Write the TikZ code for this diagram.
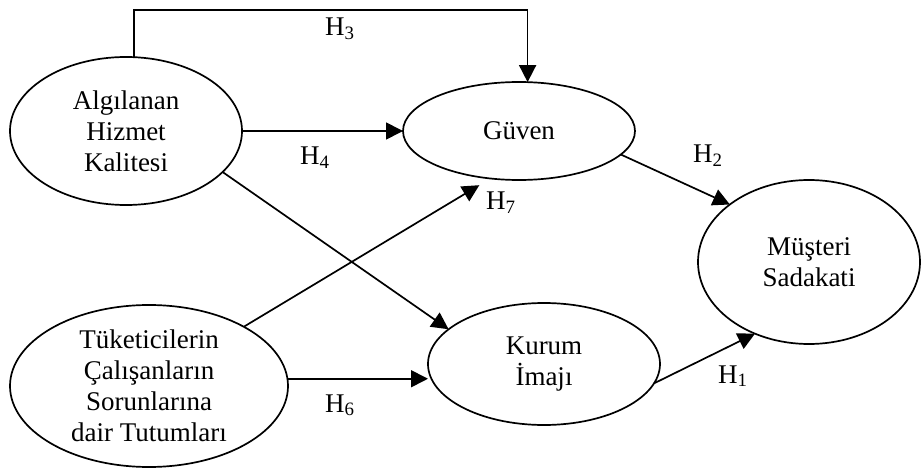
\documentclass[tikz,border=0pt]{standalone}
\usepackage{fontspec}
\setmainfont{Liberation Serif}
\usetikzlibrary{arrows.meta,shapes.geometric}
\begin{document}
\begin{tikzpicture}[x=1pt,y=-1pt,
  ell/.style={ellipse,draw,line width=1.7pt,inner sep=0pt,outer sep=0pt,align=center,
    font=\fontsize{27}{31}\selectfont},
  conn/.style={line width=1.7pt,-{Triangle[length=17pt,width=17pt]}},
  hlab/.style={anchor=base west,inner sep=0pt,font=\fontsize{27}{31}\selectfont}]
\useasboundingbox (0,0) rectangle (922,468);
\node[ell,minimum width=232pt,minimum height=148pt] (alg) at (126,131) {Algılanan\\Hizmet\\Kalitesi};
\node[ell,minimum width=232pt,minimum height=98pt] (guv) at (519,131) {Güven};
\node[ell,minimum width=222pt,minimum height=164pt] (mus) at (809,262) {Müşteri\\Sadakati};
\node[ell,minimum width=232pt,minimum height=122pt] (kur) at (544,364) {Kurum\\İmajı};
\node[ell,minimum width=278pt,minimum height=162pt] (tuk) at (149,386) {Tüketicilerin\\Çalışanların\\Sorunlarına\\dair Tutumları};
\coordinate (top) at (0,10);
\draw[conn] (alg.84) -- (alg.84 |- top) -- (guv.80 |- top) -- (guv.80);
\draw[conn] (alg.east) -- (guv.west);
\draw[conn] (alg.-23) -- (kur.160);
\draw[conn,shorten >=13pt] (tuk.32) -- (guv.-121);
\draw[conn] (tuk.3) -- (tuk.3 -| kur.west);
\draw[conn] (guv.-13) -- (mus.144);
\draw[conn] (kur.-10) -- (mus.-127);
\node[hlab] (h3) at (325,36) {H\textsubscript{3}};
\node[hlab] (h4) at (300,165) {H\textsubscript{4}};
\node[hlab] (h7) at (486,210) {H\textsubscript{7}};
\node[hlab] (h2) at (693,163) {H\textsubscript{2}};
\node[hlab] (h6) at (325,412) {H\textsubscript{6}};
\node[hlab] (h1) at (718,383) {H\textsubscript{1}};
\end{tikzpicture}
\end{document}
